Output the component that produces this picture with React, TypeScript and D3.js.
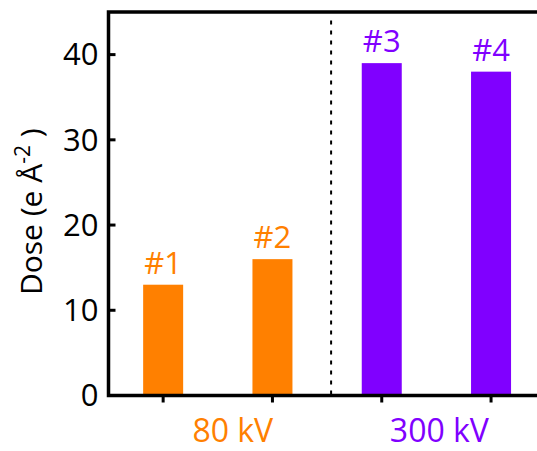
import * as d3 from "d3";

const samples = ["#1", "#2", "#3", "#4"];
const doses = [13, 16, 39, 38];
const groups = ["80 kV", "80 kV", "300 kV", "300 kV"];
const groupLabels = ["80 kV", "300 kV"];
const yTicks = [0, 10, 20, 30, 40];

const colors: Record<string, string> = { "80 kV": "#FF8000", "300 kV": "#8000FF" };

export default function App() {
  const width = 537;
  const height = 451;
  const margin = { top: 12, left: 108.5, bottom: 55 };
  const plotW = 437.2;
  const x = d3
    .scaleBand<string>()
    .domain(samples)
    .range([margin.left, margin.left + plotW])
    .paddingInner(0.634)
    .paddingOuter(0.317);
  const y = d3.scaleLinear().domain([0, 45]).range([height - margin.bottom - 0.5, margin.top]);
  const font = "'Open Sans', sans-serif";
  const y0 = y(0);
  const divX = (x("#2")! + x.bandwidth() + x("#3")!) / 2 + 4;
  const groupX = (g: string) => {
    const idx = groups.map((d, i) => (d === g ? i : -1)).filter((i) => i >= 0);
    const c = d3.mean(idx, (i) => x(samples[i])! + x.bandwidth() / 2)!;
    return g === "80 kV" ? c + 15 : c + 3;
  };

  return (
    <svg width={width} height={height} style={{ position: "absolute", left: 0, top: 0 }}>
      {samples.map((s, i) => (
        <g key={s}>
          <rect
            x={x(s)}
            y={y(doses[i])}
            width={x.bandwidth()}
            height={y0 - y(doses[i])}
            fill={colors[groups[i]]}
          />
          <text
            x={x(s)! + x.bandwidth() / 2}
            y={y(doses[i]) - 11}
            textAnchor="middle"
            fontFamily={font}
            fontSize={31}
            fill={colors[groups[i]]}
          >
            {s}
          </text>
          <line
            x1={x(s)! + x.bandwidth() / 2}
            x2={x(s)! + x.bandwidth() / 2}
            y1={y0}
            y2={y0 + 7}
            stroke="#000"
            strokeWidth={3}
          />
        </g>
      ))}
      <line x1={divX} x2={divX} y1={y(44)} y2={y0} stroke="#000" strokeWidth={2} strokeDasharray="4 6" />
      {yTicks.map((t) => (
        <g key={t}>
          <line x1={margin.left} x2={margin.left + 7} y1={y(t)} y2={y(t)} stroke="#000" strokeWidth={3} />
          <text
            x={margin.left - 10}
            y={y(t)}
            dy="0.35em"
            textAnchor="end"
            fontFamily={font}
            fontSize={31}
            fill="#000"
          >
            {t}
          </text>
        </g>
      ))}
      <path
        d={`M${margin.left + plotW},${margin.top} H${margin.left} V${y0} H${margin.left + plotW}`}
        fill="none"
        stroke="#000"
        strokeWidth={3.5}
      />
      {groupLabels.map((g) => (
        <text
          key={g}
          x={groupX(g)}
          y={442}
          textAnchor="middle"
          fontFamily={font}
          fontSize={32}
          fill={colors[g]}
        >
          {g}
        </text>
      ))}
      <text
        transform={`translate(42,${(y0 + margin.top) / 2 + 8}) rotate(-90)`}
        textAnchor="middle"
        fontFamily={font}
        fontSize={30}
        fill="#000"
      >
        Dose (e Å
        <tspan dy={-12} fontSize={21}>-2</tspan>
        <tspan dy={12}> )</tspan>
      </text>
    </svg>
  );
}
